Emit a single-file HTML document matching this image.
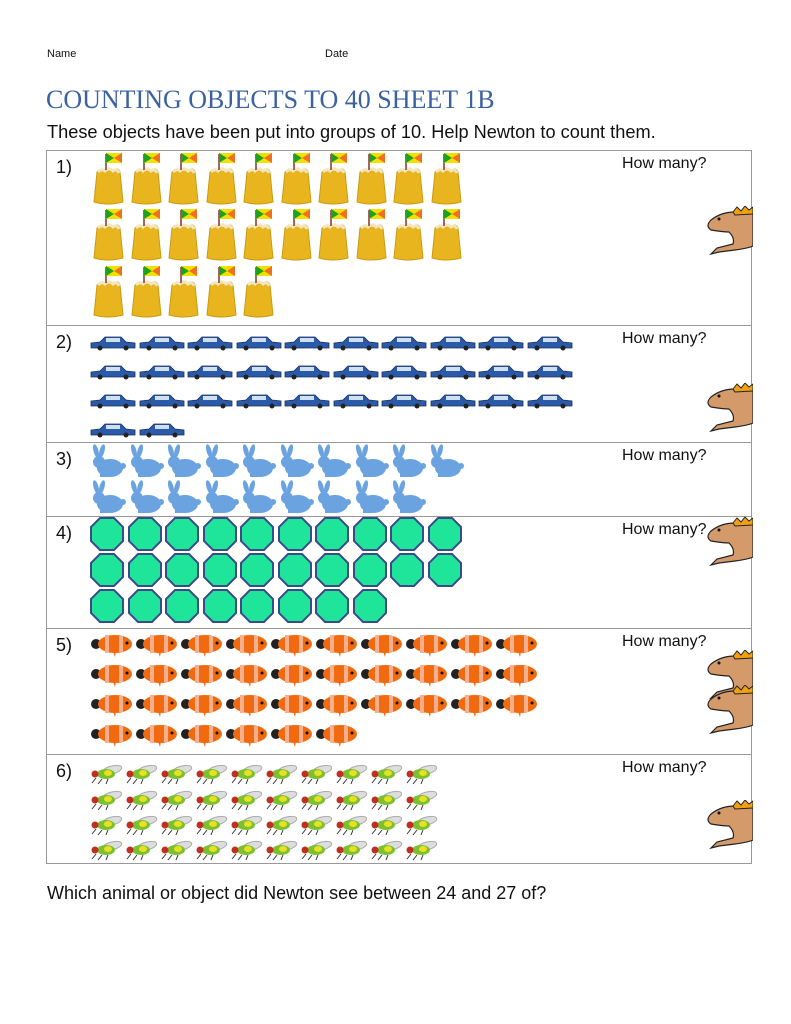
<!DOCTYPE html>
<html><head><meta charset="utf-8"><style>
body{margin:0;width:791px;height:1024px;background:#fff;position:relative;overflow:hidden;font-family:"Liberation Sans",sans-serif;color:#111}
.t{position:absolute;white-space:nowrap}
.row{position:absolute;left:46px;width:706px;border:1px solid #999;border-bottom:none;box-sizing:border-box}
.it{position:absolute}
</style></head><body>
<div class="t" style="left:47px;top:48px;font-size:11px">Name</div>
<div class="t" style="left:325px;top:48px;font-size:11px">Date</div>
<div class="t" style="left:46px;top:85px;font-size:26px;font-family:'Liberation Serif',serif;color:#3a62a0">COUNTING OBJECTS TO 40 SHEET 1B</div>
<div class="t" style="left:47px;top:122px;font-size:18.2px">These objects have been put into groups of 10. Help Newton to count them.</div>
<div id="tbl"></div>
<div class="t" style="left:47px;top:883px;font-size:18px">Which animal or object did Newton see between 24 and 27 of?</div>
<script>
const rowTops=[150,325,442,516,628,754];
const rowBottom=864;
const counts=[[10,10,5],[10,10,10,2],[10,9],[10,10,8],[10,10,10,6],[10,10,10,10]];
const kinds=['castle','car','rabbit','octagon','fish','fly'];
const layout={castle:{x:91,dx:37.5,ys:[152,208,265],w:34,h:54},car:{x:90,dx:48.5,ys:[335,364,393,422],w:46,h:16},
rabbit:{x:90,dx:37.5,ys:[444,480],w:36,h:34},octagon:{x:90,dx:37.5,ys:[517,553,589],w:34,h:34},
fish:{x:89,dx:45,ys:[632,662,692,722],w:46,h:26},fly:{x:90,dx:35,ys:[763,789,814,839],w:34,h:22}};
const svgs={
castle:'<svg width="34" height="54" viewBox="0 0 34 54"><path d="M3 50 L6 20 Q10 15 14 18 Q18 14 22 18 Q27 15 29 20 L32 50 Q17 54 3 50Z" fill="#e8b51e" stroke="#c99a10"/><path d="M7 20 Q11 16 14 19 Q18 15 22 19 Q26 16 28 21" fill="none" stroke="#f2e6c0" stroke-width="3"/><line x1="15" y1="2" x2="15" y2="18" stroke="#8a3030" stroke-width="1.5"/><rect x="15" y="1" width="16" height="10" fill="#f2e000"/><path d="M15 1 L23 6 L15 11Z" fill="#20a020"/><path d="M31 1 L23 6 L31 11Z" fill="#f07020"/></svg>',
car:'<svg width="46" height="16" viewBox="0 0 46 16"><path d="M1 8 L10 7 L15 2 L31 2 L36 7 L45 8 L45 13 L1 13Z" fill="#2a5aa8" stroke="#1a3060" stroke-width=".8"/><rect x="16" y="3" width="14" height="4" fill="#cfe0f0"/><circle cx="10" cy="13" r="2.5" fill="#222"/><circle cx="36" cy="13" r="2.5" fill="#222"/></svg>',
rabbit:'<svg width="36" height="34" viewBox="0 0 36 34"><ellipse cx="20" cy="24" rx="13" ry="9" fill="#6aa3e0"/><circle cx="9" cy="18" r="6" fill="#6aa3e0"/><ellipse cx="6" cy="7" rx="2.5" ry="7" fill="#6aa3e0" transform="rotate(-15 6 7)"/><ellipse cx="12" cy="7" rx="2.5" ry="7" fill="#6aa3e0" transform="rotate(15 12 7)"/><circle cx="33" cy="22" r="3" fill="#6aa3e0"/><rect x="10" y="29" width="8" height="4" fill="#6aa3e0"/></svg>',
octagon:'<svg width="34" height="34" viewBox="0 0 34 34"><polygon points="10,1 24,1 33,10 33,24 24,33 10,33 1,24 1,10" fill="#1fe59a" stroke="#3a4a8a" stroke-width="2"/></svg>',
fish:'<svg width="46" height="26" viewBox="0 0 46 26"><circle cx="7" cy="12" r="5" fill="#222"/><ellipse cx="26" cy="12" rx="17" ry="9" fill="#f26a10"/><rect x="16" y="3" width="4" height="18" fill="#f4b090"/><rect x="30" y="4" width="4" height="16" fill="#f4b090"/><path d="M22 14 L26 25 L28 14Z" fill="#f26a10"/><circle cx="38" cy="11" r="1.5" fill="#111"/></svg>',
fly:'<svg width="34" height="22" viewBox="0 0 34 22"><ellipse cx="22" cy="7" rx="10" ry="4" fill="#ddd" stroke="#aaa" transform="rotate(-15 22 7)"/><ellipse cx="16" cy="11" rx="9" ry="5" fill="#7ac030"/><ellipse cx="18" cy="10" rx="4" ry="3" fill="#e8e020"/><circle cx="5" cy="11" r="3.5" fill="#c03020"/><path d="M6 15 L2 20 M12 16 L8 21 M18 16 L16 21" stroke="#333"/></svg>',
newton:'<svg width="48" height="56" viewBox="0 0 48 56"><path d="M48 4 L30 6 Q16 6 6 14 Q0 20 6 24 Q18 26 24 26 Q30 32 28 38 L12 42 L6 48 L14 46 L30 44 Q44 42 48 40Z" fill="#d49a6a" stroke="#222" stroke-width="1.2"/><path d="M28 6 L32 1 L36 5 L40 0 L44 4 L48 1 L48 8 L30 9Z" fill="#f0a010" stroke="#222"/><circle cx="14" cy="13" r="1.5" fill="#111"/></svg>'};
rowTops.forEach((top,i)=>{
  const bot=i<5?rowTops[i+1]:rowBottom;
  const r=document.createElement('div');
  r.className='row';
  
  
  r.style.top=top+'px';r.style.height=(bot-top)+'px';
  if(i==5)r.style.borderBottom='1px solid #999';
  document.body.appendChild(r);
  const n=document.createElement('div');n.className='t';
  
  
  n.style.left='56px';n.style.top=(top+7)+'px';n.style.fontSize='18px';n.textContent=(i+1)+')';
  document.body.appendChild(n);
  const h=document.createElement('div');h.className='t';
  
  
  h.style.left='622px';h.style.top=(top+5)+'px';h.style.fontSize='16px';h.textContent='How many?';
  document.body.appendChild(h);
  const L=layout[kinds[i]];
  counts[i].forEach((c,ri)=>{for(let k=0;k<c;k++){
    const e=document.createElement('div');e.className='it';
    
    
    e.style.left=(L.x+k*L.dx)+'px';e.style.top=L.ys[ri]+'px';e.innerHTML=svgs[kinds[i]];
    document.body.appendChild(e);}});
});
const newts=[206,383,517,650,685,800];
newts.forEach(y=>{const e=document.createElement('div');e.className='it';
  
  
  e.style.left='705px';e.style.top=y+'px';e.innerHTML=svgs.newton;document.body.appendChild(e);});
</script>
</body></html>
